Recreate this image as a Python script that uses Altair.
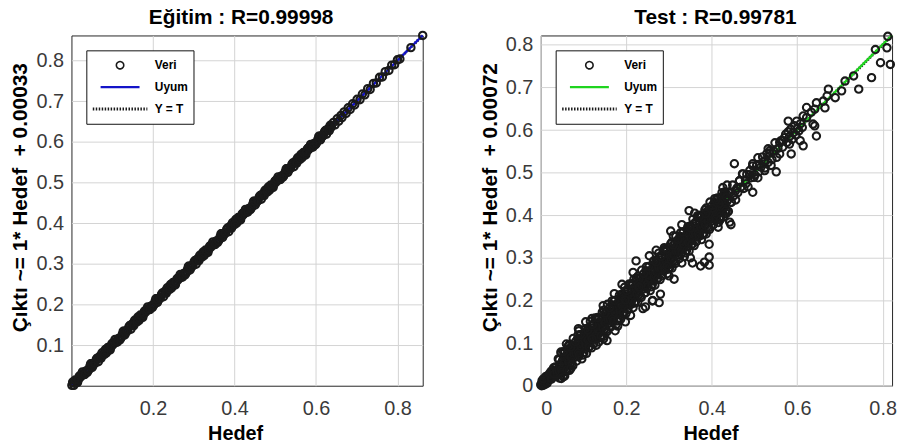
import altair as alt
import pandas as pd

FONT = "Liberation Sans"
MAVI = "#1414c8"
YESIL = "#1fd41f"
NOKTA = "#1a1a1a"

egitim_baslik = "Eğitim : R=0.99998"
test_baslik = "Test : R=0.99781"
x_baslik = "Hedef"
egitim_y_baslik = "Çıktı ~= 1* Hedef\u00a0 + 0.00033"
test_y_baslik = "Çıktı ~= 1* Hedef\u00a0 + 0.00072"
seri_adlari = ["Veri", "Uyum", "Y = T"]

egitim_x_ticks = [0.2, 0.4, 0.6, 0.8]
egitim_y_ticks = [0.1, 0.2, 0.3, 0.4, 0.5, 0.6, 0.7, 0.8]
test_x_ticks = [0.0, 0.2, 0.4, 0.6, 0.8]
test_y_ticks = [0.0, 0.1, 0.2, 0.3, 0.4, 0.5, 0.6, 0.7, 0.8]
egitim_eksen = [0.0, 0.862]
test_eksen = [0.0, 0.822]

# ---------------- Eğitim (training) ----------------
egitim_hedef = [
    0.003, 0.006, 0.010, 0.015, 0.019, 0.022, 0.027, 0.031, 0.034, 0.039,
    0.042, 0.047, 0.051, 0.054, 0.058, 0.063, 0.066, 0.070, 0.075, 0.078,
    0.083, 0.086, 0.090, 0.095, 0.099, 0.102, 0.107, 0.111, 0.114, 0.119,
    0.122, 0.127, 0.131, 0.134, 0.138, 0.143, 0.146, 0.150, 0.155, 0.158,
    0.163, 0.166, 0.170, 0.175, 0.179, 0.182, 0.187, 0.191, 0.194, 0.199,
    0.202, 0.207, 0.211, 0.214, 0.218, 0.223, 0.226, 0.230, 0.235, 0.238,
    0.243, 0.246, 0.250, 0.255, 0.259, 0.262, 0.267, 0.271, 0.274, 0.279,
    0.282, 0.287, 0.291, 0.294, 0.298, 0.303, 0.306, 0.310, 0.315, 0.318,
    0.323, 0.326, 0.330, 0.335, 0.339, 0.342, 0.347, 0.351, 0.354, 0.359,
    0.362, 0.367, 0.371, 0.374, 0.378, 0.383, 0.386, 0.390, 0.395, 0.398,
    0.403, 0.406, 0.410, 0.415, 0.419, 0.422, 0.427, 0.431, 0.434, 0.439,
    0.442, 0.447, 0.451, 0.454, 0.458, 0.463, 0.466, 0.470, 0.475, 0.478,
    0.483, 0.486, 0.490, 0.495, 0.499, 0.502, 0.507, 0.511, 0.514, 0.519,
    0.522, 0.527, 0.531, 0.534, 0.538, 0.543, 0.546, 0.550, 0.555, 0.558,
    0.563, 0.566, 0.570, 0.575, 0.579, 0.582, 0.587, 0.591, 0.594, 0.599,
    0.602, 0.607, 0.611, 0.614, 0.618, 0.623, 0.626, 0.630, 0.635, 0.638,
    0.005, 0.013, 0.021, 0.029, 0.037, 0.045, 0.053, 0.061, 0.069, 0.077,
    0.085, 0.093, 0.101, 0.109, 0.117, 0.125, 0.133, 0.141, 0.149, 0.157,
    0.165, 0.173, 0.181, 0.189, 0.197, 0.205, 0.213, 0.221, 0.229, 0.237,
    0.245, 0.253, 0.261, 0.269, 0.277, 0.285, 0.293, 0.301, 0.309, 0.317,
    0.325, 0.333, 0.341, 0.349, 0.357, 0.365, 0.373, 0.381, 0.389, 0.397,
    0.405, 0.413, 0.421, 0.429, 0.437, 0.445, 0.453, 0.461, 0.469, 0.477,
    0.485, 0.493, 0.501, 0.509, 0.517, 0.525, 0.533, 0.541, 0.549, 0.557,
    0.565, 0.573, 0.581, 0.589, 0.597, 0.605, 0.613, 0.621, 0.629, 0.637,
    0.001, 0.009, 0.017, 0.025, 0.033, 0.041, 0.049, 0.057, 0.065, 0.073,
    0.081, 0.089, 0.097, 0.105, 0.113, 0.121, 0.129, 0.137, 0.145, 0.153,
    0.161, 0.169, 0.177, 0.185, 0.193, 0.201, 0.209, 0.217, 0.225, 0.233,
    0.241, 0.249, 0.257, 0.265, 0.273, 0.281, 0.289, 0.297, 0.305, 0.313,
    0.321, 0.329, 0.337, 0.345, 0.353, 0.361, 0.369, 0.377, 0.385, 0.393,
    0.401, 0.409, 0.417, 0.425, 0.433, 0.441, 0.449, 0.457, 0.465, 0.473,
    0.481, 0.489, 0.497, 0.505, 0.513, 0.521, 0.529, 0.537, 0.545, 0.553,
    0.561, 0.569, 0.577, 0.585, 0.593, 0.601, 0.609, 0.617, 0.625, 0.633,
    0.643, 0.647, 0.652, 0.656, 0.661, 0.664, 0.669, 0.674, 0.679, 0.684,
    0.690, 0.695, 0.701, 0.708, 0.714, 0.720, 0.727, 0.733, 0.741, 0.748,
    0.756, 0.763, 0.770, 0.779, 0.786, 0.793, 0.800, 0.806, 0.833, 0.862,
]
egitim_cikti = [
    0.009, 0.001, 0.012, 0.008, 0.023, 0.021, 0.034, 0.027, 0.035, 0.033,
    0.039, 0.054, 0.045, 0.055, 0.056, 0.068, 0.059, 0.073, 0.081, 0.077,
    0.089, 0.081, 0.092, 0.088, 0.103, 0.101, 0.114, 0.107, 0.115, 0.113,
    0.119, 0.134, 0.125, 0.135, 0.136, 0.148, 0.139, 0.153, 0.161, 0.157,
    0.169, 0.161, 0.172, 0.168, 0.183, 0.181, 0.194, 0.187, 0.195, 0.193,
    0.199, 0.214, 0.205, 0.215, 0.216, 0.228, 0.219, 0.233, 0.241, 0.237,
    0.249, 0.241, 0.252, 0.248, 0.263, 0.261, 0.274, 0.267, 0.275, 0.273,
    0.279, 0.294, 0.285, 0.295, 0.296, 0.308, 0.299, 0.313, 0.321, 0.317,
    0.329, 0.321, 0.332, 0.328, 0.343, 0.341, 0.354, 0.347, 0.355, 0.353,
    0.359, 0.374, 0.365, 0.375, 0.376, 0.388, 0.379, 0.393, 0.401, 0.397,
    0.409, 0.401, 0.412, 0.408, 0.423, 0.421, 0.434, 0.427, 0.435, 0.433,
    0.439, 0.454, 0.445, 0.455, 0.456, 0.468, 0.459, 0.473, 0.481, 0.477,
    0.489, 0.481, 0.492, 0.488, 0.503, 0.501, 0.514, 0.507, 0.515, 0.513,
    0.519, 0.534, 0.525, 0.535, 0.536, 0.548, 0.539, 0.553, 0.561, 0.557,
    0.569, 0.561, 0.572, 0.568, 0.583, 0.581, 0.594, 0.587, 0.595, 0.593,
    0.599, 0.614, 0.605, 0.615, 0.616, 0.628, 0.619, 0.633, 0.641, 0.637,
    0.007, 0.010, 0.025, 0.028, 0.037, 0.047, 0.050, 0.065, 0.068, 0.077,
    0.087, 0.090, 0.105, 0.108, 0.117, 0.127, 0.130, 0.145, 0.148, 0.157,
    0.167, 0.170, 0.185, 0.188, 0.197, 0.207, 0.210, 0.225, 0.228, 0.237,
    0.247, 0.250, 0.265, 0.268, 0.277, 0.287, 0.290, 0.305, 0.308, 0.317,
    0.327, 0.330, 0.345, 0.348, 0.357, 0.367, 0.370, 0.385, 0.388, 0.397,
    0.407, 0.410, 0.425, 0.428, 0.437, 0.447, 0.450, 0.465, 0.468, 0.477,
    0.487, 0.490, 0.505, 0.508, 0.517, 0.527, 0.530, 0.545, 0.548, 0.557,
    0.567, 0.570, 0.585, 0.588, 0.597, 0.607, 0.610, 0.625, 0.628, 0.637,
    0.001, 0.014, 0.015, 0.028, 0.028, 0.037, 0.054, 0.055, 0.068, 0.068,
    0.077, 0.094, 0.095, 0.108, 0.108, 0.117, 0.134, 0.135, 0.148, 0.148,
    0.157, 0.174, 0.175, 0.188, 0.188, 0.197, 0.214, 0.215, 0.228, 0.228,
    0.237, 0.254, 0.255, 0.268, 0.268, 0.277, 0.294, 0.295, 0.308, 0.308,
    0.317, 0.334, 0.335, 0.348, 0.348, 0.357, 0.374, 0.375, 0.388, 0.388,
    0.397, 0.414, 0.415, 0.428, 0.428, 0.437, 0.454, 0.455, 0.468, 0.468,
    0.477, 0.494, 0.495, 0.508, 0.508, 0.517, 0.534, 0.535, 0.548, 0.548,
    0.557, 0.574, 0.575, 0.588, 0.588, 0.597, 0.614, 0.615, 0.628, 0.628,
    0.648, 0.642, 0.657, 0.651, 0.665, 0.660, 0.674, 0.670, 0.684, 0.680,
    0.694, 0.691, 0.705, 0.704, 0.718, 0.716, 0.731, 0.729, 0.744, 0.745,
    0.759, 0.760, 0.773, 0.776, 0.789, 0.790, 0.802, 0.804, 0.832, 0.862,
]
egitim_uyum_hedef = [0.0, 0.862]
egitim_uyum_cikti = [0.00033, 0.86233]

# ---------------- Test ----------------
test_hedef = [
    0.001, 0.003, 0.004, 0.006, 0.008, 0.009, 0.011, 0.013, 0.014, 0.016, 0.018, 0.019,
    0.000, 0.002, 0.005, 0.007, 0.010, 0.012, 0.003, 0.015, 0.020, 0.006,
    0.020, 0.022, 0.024, 0.025, 0.027, 0.029, 0.030, 0.032, 0.034, 0.035, 0.037, 0.039,
    0.041, 0.043, 0.044, 0.046, 0.048, 0.049, 0.051, 0.053, 0.054, 0.056, 0.058, 0.059,
    0.060, 0.062, 0.064, 0.065, 0.067, 0.069, 0.070, 0.072, 0.074, 0.075, 0.077, 0.079,
    0.081, 0.083, 0.084, 0.086, 0.088, 0.089, 0.091, 0.093, 0.094, 0.096, 0.098, 0.099,
    0.100, 0.102, 0.104, 0.105, 0.107, 0.109, 0.110, 0.112, 0.114, 0.115, 0.117, 0.119,
    0.121, 0.123, 0.124, 0.126, 0.128, 0.129, 0.131, 0.133, 0.134, 0.136, 0.138, 0.139,
    0.140, 0.142, 0.144, 0.145, 0.147, 0.149, 0.150, 0.152, 0.154, 0.155, 0.157, 0.159,
    0.161, 0.163, 0.164, 0.166, 0.168, 0.169, 0.171, 0.173, 0.174, 0.176, 0.178, 0.179,
    0.180, 0.182, 0.184, 0.185, 0.187, 0.189, 0.190, 0.192, 0.194, 0.195, 0.197, 0.199,
    0.201, 0.203, 0.204, 0.206, 0.208, 0.209, 0.211, 0.213, 0.214, 0.216, 0.218, 0.219,
    0.220, 0.222, 0.224, 0.225, 0.227, 0.229, 0.230, 0.232, 0.234, 0.235, 0.237, 0.239,
    0.241, 0.243, 0.244, 0.246, 0.248, 0.249, 0.251, 0.253, 0.254, 0.256, 0.258, 0.259,
    0.260, 0.262, 0.264, 0.265, 0.267, 0.269, 0.270, 0.272, 0.274, 0.275, 0.277, 0.279,
    0.281, 0.283, 0.284, 0.286, 0.288, 0.289, 0.291, 0.293, 0.294, 0.296, 0.298, 0.299,
    0.300, 0.302, 0.304, 0.305, 0.307, 0.309, 0.310, 0.312, 0.314, 0.315, 0.317, 0.319,
    0.321, 0.323, 0.324, 0.326, 0.328, 0.329, 0.331, 0.333, 0.334, 0.336, 0.338, 0.339,
    0.340, 0.342, 0.344, 0.345, 0.347, 0.349, 0.350, 0.352, 0.354, 0.355, 0.357, 0.359,
    0.361, 0.363, 0.364, 0.366, 0.368, 0.369, 0.371, 0.373, 0.374, 0.376, 0.378, 0.379,
    0.380, 0.382, 0.384, 0.385, 0.387, 0.389, 0.390, 0.392, 0.394, 0.395, 0.397, 0.399,
    0.401, 0.403, 0.404, 0.406, 0.408, 0.409, 0.411, 0.413, 0.414, 0.416, 0.418, 0.419,
    0.420, 0.422, 0.424, 0.425, 0.427, 0.429, 0.430, 0.432, 0.434, 0.435, 0.437, 0.439,
    0.022, 0.025, 0.028, 0.031, 0.034, 0.037, 0.042, 0.045, 0.048, 0.051, 0.054, 0.057,
    0.062, 0.065, 0.068, 0.071, 0.074, 0.077, 0.082, 0.085, 0.088, 0.091, 0.094, 0.097,
    0.102, 0.105, 0.108, 0.111, 0.114, 0.117, 0.122, 0.125, 0.128, 0.131, 0.134, 0.137,
    0.142, 0.145, 0.148, 0.151, 0.154, 0.157, 0.162, 0.165, 0.168, 0.171, 0.174, 0.177,
    0.182, 0.185, 0.188, 0.191, 0.194, 0.197, 0.202, 0.205, 0.208, 0.211, 0.214, 0.217,
    0.222, 0.225, 0.228, 0.231, 0.234, 0.237, 0.242, 0.245, 0.248, 0.251, 0.254, 0.257,
    0.262, 0.265, 0.268, 0.271, 0.274, 0.277, 0.282, 0.285, 0.288, 0.291, 0.294, 0.297,
    0.302, 0.305, 0.308, 0.311, 0.314, 0.317, 0.322, 0.325, 0.328, 0.331, 0.334, 0.337,
    0.342, 0.345, 0.348, 0.351, 0.354, 0.357, 0.362, 0.365, 0.368, 0.371, 0.374, 0.377,
    0.382, 0.385, 0.388, 0.391, 0.394, 0.397, 0.402, 0.405, 0.408, 0.411, 0.414, 0.417,
    0.422, 0.425, 0.428, 0.431, 0.434, 0.437,
    0.041, 0.044, 0.047, 0.050, 0.053, 0.056, 0.061, 0.064, 0.067, 0.070, 0.073, 0.076,
    0.081, 0.084, 0.087, 0.090, 0.093, 0.096, 0.101, 0.104, 0.107, 0.110, 0.113, 0.116,
    0.121, 0.124, 0.127, 0.130, 0.133, 0.136, 0.141, 0.144, 0.147, 0.150, 0.153, 0.156,
    0.161, 0.164, 0.167, 0.170, 0.173, 0.176, 0.181, 0.184, 0.187, 0.190, 0.193, 0.196,
    0.201, 0.204, 0.207, 0.210, 0.213, 0.216, 0.221, 0.224, 0.227, 0.230, 0.233, 0.236,
    0.241, 0.244, 0.247, 0.250, 0.253, 0.256, 0.261, 0.264, 0.267, 0.270, 0.273, 0.276,
    0.281, 0.284, 0.287, 0.290, 0.293, 0.296, 0.301, 0.304, 0.307, 0.310, 0.313, 0.316,
    0.321, 0.324, 0.327, 0.330, 0.333, 0.336, 0.341, 0.344, 0.347, 0.350, 0.353, 0.356,
    0.361, 0.364, 0.367, 0.370, 0.373, 0.376, 0.381, 0.384, 0.387, 0.390, 0.393, 0.396,
    0.401, 0.404, 0.407, 0.410, 0.413, 0.416, 0.421, 0.424, 0.427, 0.430, 0.433, 0.436,
    0.442, 0.445, 0.449, 0.452, 0.456, 0.459, 0.461, 0.465, 0.468, 0.472, 0.475, 0.479,
    0.482, 0.485, 0.489, 0.492, 0.496, 0.499, 0.501, 0.505, 0.508, 0.512, 0.515, 0.519,
    0.522, 0.525, 0.529, 0.532, 0.536, 0.539, 0.541, 0.545, 0.548, 0.552, 0.555, 0.559,
    0.562, 0.566, 0.570, 0.573, 0.576, 0.579, 0.582, 0.585, 0.588, 0.591, 0.594, 0.597,
    0.600, 0.604, 0.608, 0.612,
    0.812, 0.783, 0.810, 0.795, 0.818, 0.774, 0.732, 0.712, 0.744, 0.704,
    0.673, 0.670, 0.689, 0.661, 0.665, 0.645, 0.641, 0.633, 0.622, 0.622,
    0.641, 0.645, 0.637, 0.614, 0.579, 0.599, 0.614, 0.607, 0.586, 0.582,
    0.567, 0.559, 0.536, 0.524, 0.532, 0.508, 0.496, 0.453, 0.489, 0.510,
    0.524, 0.551, 0.473, 0.465, 0.480, 0.456, 0.496, 0.442, 0.434, 0.426,
    0.446, 0.418, 0.410, 0.402, 0.347, 0.386, 0.371, 0.434, 0.442, 0.445,
    0.394, 0.394, 0.383, 0.355, 0.374, 0.394, 0.304, 0.312, 0.296, 0.280,
    0.261, 0.245, 0.277, 0.245, 0.230, 0.218, 0.198, 0.147, 0.155, 0.198,
    0.174, 0.120, 0.089, 0.053, 0.048,
    0.088, 0.146, 0.172, 0.216, 0.223, 0.254, 0.289, 0.120, 0.190, 0.270,
    0.330, 0.360, 0.060, 0.105, 0.310,
    0.239, 0.262, 0.180, 0.210, 0.330, 0.350, 0.300, 0.130, 0.070, 0.415, 0.420,
]
test_cikti = [
    0.004, 0.004, 0.010, 0.004, 0.012, 0.009, 0.019, 0.015, 0.011, 0.021, 0.019, 0.015,
    0.002, 0.000, 0.001, 0.010, 0.003, 0.022, 0.012, 0.006, 0.028, 0.016,
    0.026, 0.019, 0.034, 0.016, 0.029, 0.024, 0.042, 0.036, 0.023, 0.043, 0.036, 0.024,
    0.033, 0.061, 0.029, 0.051, 0.076, 0.046, 0.031, 0.063, 0.042, 0.078, 0.059, 0.034,
    0.064, 0.038, 0.078, 0.056, 0.097, 0.053, 0.077, 0.068, 0.093, 0.047, 0.088, 0.078,
    0.067, 0.092, 0.082, 0.110, 0.069, 0.105, 0.084, 0.120, 0.083, 0.098, 0.072, 0.112,
    0.112, 0.097, 0.124, 0.087, 0.110, 0.099, 0.135, 0.120, 0.092, 0.130, 0.115, 0.089,
    0.113, 0.141, 0.109, 0.131, 0.156, 0.126, 0.111, 0.143, 0.122, 0.158, 0.139, 0.114,
    0.144, 0.118, 0.158, 0.136, 0.177, 0.133, 0.157, 0.148, 0.173, 0.127, 0.168, 0.158,
    0.147, 0.172, 0.162, 0.190, 0.149, 0.185, 0.164, 0.200, 0.163, 0.178, 0.152, 0.192,
    0.192, 0.177, 0.204, 0.167, 0.190, 0.179, 0.215, 0.200, 0.172, 0.210, 0.195, 0.169,
    0.193, 0.221, 0.189, 0.211, 0.236, 0.206, 0.191, 0.223, 0.202, 0.238, 0.219, 0.194,
    0.224, 0.198, 0.238, 0.216, 0.257, 0.213, 0.237, 0.228, 0.253, 0.207, 0.248, 0.238,
    0.227, 0.252, 0.242, 0.270, 0.229, 0.265, 0.244, 0.280, 0.243, 0.258, 0.232, 0.272,
    0.272, 0.257, 0.284, 0.247, 0.270, 0.259, 0.295, 0.280, 0.252, 0.290, 0.275, 0.249,
    0.273, 0.301, 0.269, 0.291, 0.316, 0.286, 0.271, 0.303, 0.282, 0.318, 0.299, 0.274,
    0.304, 0.278, 0.318, 0.296, 0.337, 0.293, 0.317, 0.308, 0.333, 0.287, 0.328, 0.318,
    0.307, 0.332, 0.322, 0.350, 0.309, 0.345, 0.324, 0.360, 0.323, 0.338, 0.312, 0.352,
    0.352, 0.337, 0.364, 0.327, 0.350, 0.339, 0.375, 0.360, 0.332, 0.370, 0.355, 0.329,
    0.353, 0.381, 0.349, 0.371, 0.396, 0.366, 0.351, 0.383, 0.362, 0.398, 0.379, 0.354,
    0.384, 0.358, 0.398, 0.376, 0.417, 0.373, 0.397, 0.388, 0.413, 0.367, 0.408, 0.398,
    0.387, 0.412, 0.402, 0.430, 0.389, 0.425, 0.404, 0.440, 0.403, 0.418, 0.392, 0.432,
    0.432, 0.417, 0.444, 0.407, 0.430, 0.419, 0.455, 0.440, 0.412, 0.450, 0.435, 0.409,
    0.028, 0.016, 0.030, 0.027, 0.044, 0.036, 0.036, 0.049, 0.037, 0.059, 0.052, 0.069,
    0.068, 0.056, 0.070, 0.067, 0.084, 0.076, 0.076, 0.089, 0.077, 0.099, 0.092, 0.109,
    0.108, 0.096, 0.110, 0.107, 0.124, 0.116, 0.116, 0.129, 0.117, 0.139, 0.132, 0.149,
    0.148, 0.136, 0.150, 0.147, 0.164, 0.156, 0.156, 0.169, 0.157, 0.179, 0.172, 0.189,
    0.188, 0.176, 0.190, 0.187, 0.204, 0.196, 0.196, 0.209, 0.197, 0.219, 0.212, 0.229,
    0.228, 0.216, 0.230, 0.227, 0.244, 0.236, 0.236, 0.249, 0.237, 0.259, 0.252, 0.269,
    0.268, 0.256, 0.270, 0.267, 0.284, 0.276, 0.276, 0.289, 0.277, 0.299, 0.292, 0.309,
    0.308, 0.296, 0.310, 0.307, 0.324, 0.316, 0.316, 0.329, 0.317, 0.339, 0.332, 0.349,
    0.348, 0.336, 0.350, 0.347, 0.364, 0.356, 0.356, 0.369, 0.357, 0.379, 0.372, 0.389,
    0.388, 0.376, 0.390, 0.387, 0.404, 0.396, 0.396, 0.409, 0.397, 0.419, 0.412, 0.429,
    0.428, 0.416, 0.430, 0.427, 0.444, 0.436,
    0.063, 0.018, 0.079, 0.032, 0.080, 0.023, 0.037, 0.093, 0.036, 0.090, 0.051, 0.111,
    0.103, 0.058, 0.119, 0.072, 0.120, 0.063, 0.077, 0.133, 0.076, 0.130, 0.091, 0.151,
    0.143, 0.098, 0.159, 0.112, 0.160, 0.103, 0.117, 0.173, 0.116, 0.170, 0.131, 0.191,
    0.183, 0.138, 0.199, 0.152, 0.200, 0.143, 0.157, 0.213, 0.156, 0.210, 0.171, 0.231,
    0.223, 0.178, 0.239, 0.192, 0.240, 0.183, 0.197, 0.253, 0.196, 0.250, 0.211, 0.271,
    0.263, 0.218, 0.279, 0.232, 0.280, 0.223, 0.237, 0.293, 0.236, 0.290, 0.251, 0.311,
    0.303, 0.258, 0.319, 0.272, 0.320, 0.263, 0.277, 0.333, 0.276, 0.330, 0.291, 0.351,
    0.343, 0.298, 0.359, 0.312, 0.360, 0.303, 0.317, 0.373, 0.316, 0.370, 0.331, 0.391,
    0.383, 0.338, 0.399, 0.352, 0.400, 0.343, 0.357, 0.413, 0.356, 0.410, 0.371, 0.431,
    0.423, 0.378, 0.439, 0.392, 0.440, 0.383, 0.397, 0.453, 0.396, 0.450, 0.411, 0.471,
    0.452, 0.430, 0.471, 0.446, 0.436, 0.464, 0.453, 0.481, 0.466, 0.497, 0.463, 0.482,
    0.496, 0.467, 0.495, 0.488, 0.516, 0.489, 0.495, 0.517, 0.488, 0.520, 0.513, 0.537,
    0.526, 0.511, 0.545, 0.524, 0.546, 0.517, 0.531, 0.551, 0.570, 0.536, 0.557, 0.571,
    0.575, 0.560, 0.582, 0.590, 0.571, 0.596, 0.585, 0.602, 0.578, 0.594, 0.610, 0.588,
    0.603, 0.598, 0.615, 0.606,
    0.820, 0.789, 0.793, 0.758, 0.754, 0.723, 0.727, 0.715, 0.696, 0.692,
    0.696, 0.680, 0.676, 0.668, 0.652, 0.664, 0.649, 0.642, 0.653, 0.629,
    0.610, 0.586, 0.614, 0.633, 0.621, 0.621, 0.563, 0.575, 0.544, 0.567,
    0.575, 0.544, 0.552, 0.528, 0.556, 0.535, 0.521, 0.521, 0.505, 0.502,
    0.505, 0.502, 0.497, 0.481, 0.474, 0.458, 0.454, 0.454, 0.442, 0.465,
    0.431, 0.427, 0.435, 0.416, 0.411, 0.404, 0.397, 0.404, 0.384, 0.378,
    0.332, 0.302, 0.290, 0.288, 0.281, 0.283, 0.363, 0.250, 0.281, 0.215,
    0.199, 0.185, 0.195, 0.219, 0.231, 0.250, 0.201, 0.110, 0.106, 0.150,
    0.129, 0.110, 0.129, 0.021, 0.017,
    0.134, 0.188, 0.216, 0.266, 0.293, 0.305, 0.324, 0.158, 0.238, 0.318,
    0.378, 0.405, 0.098, 0.150, 0.352,
    0.181, 0.200, 0.140, 0.165, 0.288, 0.300, 0.258, 0.095, 0.040, 0.372, 0.390,
]
test_uyum_hedef = [0.0, 0.822]
test_uyum_cikti = [0.00072, 0.82272]

assert len(egitim_hedef) == len(egitim_cikti)
assert len(test_hedef) == len(test_cikti)

CIZGI = "M-1,0H1"  # horizontal line symbol for the legend


def legend_for():
    return alt.Legend(
        title=None, orient="top-left", offset=15, padding=5,
        strokeColor="#111111", fillColor="white", cornerRadius=0,
        clipHeight=20, rowPadding=2, labelOffset=6,
        labelFont=FONT, labelFontSize=12, labelFontWeight="bold", labelColor="black",
        symbolOpacity=1,
    )


def panel(baslik, y_baslik, hedef, cikti, uyum_h, uyum_c, eksen, xt, yt, renk,
          x_title_x, title_dx):
    veri = pd.DataFrame({"Hedef": hedef, "Cikti": cikti, "seri": "Veri"})
    uyum = pd.DataFrame({"Hedef": uyum_h, "Cikti": uyum_c, "seri": "Uyum"})
    esit = pd.DataFrame({"Hedef": eksen, "Cikti": eksen, "seri": "Y = T"})
    x = alt.X("Hedef:Q", scale=alt.Scale(domain=eksen, nice=False, zero=False),
              axis=alt.Axis(values=xt, format=".1~f", title=x_baslik,
                            labelPadding=13, titlePadding=5, titleX=x_title_x))
    y = alt.Y("Cikti:Q", scale=alt.Scale(domain=eksen, nice=False, zero=False),
              axis=alt.Axis(values=yt, format=".1~f", title=y_baslik,
                            labelPadding=8, titlePadding=5, titleY=163,
                            titleFontSize=21))
    c = alt.Color("seri:N", scale=alt.Scale(domain=seri_adlari, range=[NOKTA, renk, NOKTA]),
                  legend=legend_for())
    sh = alt.Shape("seri:N", scale=alt.Scale(domain=seri_adlari, range=["circle", CIZGI, CIZGI]),
                   legend=legend_for())
    sz = alt.Size("seri:N", scale=alt.Scale(domain=seri_adlari, range=[55, 3025, 3025]),
                  legend=legend_for())
    sw = alt.StrokeWidth("seri:N", scale=alt.Scale(domain=seri_adlari, range=[1.6, 3, 1.2]),
                         legend=legend_for())
    sd = alt.StrokeDash("seri:N", scale=alt.Scale(domain=seri_adlari,
                                                  range=[[1, 0], [1, 0], [1.5, 1.5]]),
                        legend=legend_for())
    l1 = alt.Chart(esit).mark_line().encode(x=x, y=y, color=c, strokeWidth=sw, strokeDash=sd)
    l2 = alt.Chart(uyum).mark_line().encode(x=x, y=y, color=c, strokeWidth=sw, strokeDash=sd)
    l3 = alt.Chart(veri).mark_point(filled=False, strokeWidth=2.1, opacity=1).encode(
        x=x, y=y, color=c, shape=sh, size=sz)
    return alt.layer(l1, l2, l3).properties(
        width=354, height=353,
        title=alt.TitleParams(baslik, font=FONT, fontSize=21, fontWeight="bold",
                              color="black", anchor="middle", frame="group",
                              baseline="bottom", offset=-21, dx=title_dx),
    )


sol = panel(egitim_baslik, egitim_y_baslik, egitim_hedef, egitim_cikti,
            egitim_uyum_hedef, egitim_uyum_cikti, egitim_eksen,
            egitim_x_ticks, egitim_y_ticks, MAVI, 165, -6)
sag = panel(test_baslik, test_y_baslik, test_hedef, test_cikti,
            test_uyum_hedef, test_uyum_cikti, test_eksen,
            test_x_ticks, test_y_ticks, YESIL, 171, -1)

chart = (
    alt.hconcat(sol, sag, spacing=47)
    .resolve_scale(color="independent", shape="independent", size="independent",
                   strokeWidth="independent", strokeDash="independent",
                   x="independent", y="independent")
    .resolve_legend(color="independent", shape="independent", size="independent",
                    strokeWidth="independent", strokeDash="independent")
    .properties(padding={"left": 9, "top": 4, "right": 0, "bottom": 0})
    .configure(font=FONT)
    .configure_view(stroke="#262626", strokeWidth=1)
    .configure_axis(
        grid=True, gridColor="#d4d4d4", gridWidth=1, ticks=False, domain=False,
        labelFont=FONT, labelFontSize=20, labelColor="#3a3a3a",
        titleFont=FONT, titleFontSize=20, titleFontWeight="bold", titleColor="black",
    )
)

chart.save("out.html", embed_options={"renderer": "svg", "actions": False})
